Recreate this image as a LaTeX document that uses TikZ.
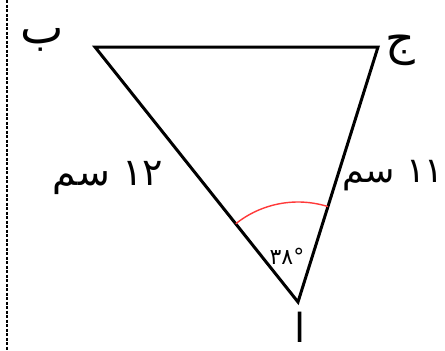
\documentclass[tikz,border=0pt]{standalone}
\usepackage{fontspec}
\newfontfamily\arabicfont[Script=Arabic]{DejaVu Sans}
\TeXXeTstate=1
\begin{document}
\begin{tikzpicture}[x=1pt,y=-1pt,
  edge/.style={line width=3pt, line join=miter},
  lbl/.style={font=\arabicfont\fontsize{38}{44}\selectfont, inner sep=0pt},
  letter/.style={font=\arabicfont\fontsize{46}{52}\selectfont, inner sep=0pt},
  small/.style={font=\arabicfont\fontsize{22}{26}\selectfont, inner sep=0pt}]
\useasboundingbox (0,0) rectangle (445,351);
\draw[line width=2.6pt, dash pattern=on 3pt off 1.5pt] (7,0) -- (7,351);
\coordinate (B) at (95,47);
\coordinate (J) at (378,47);
\coordinate (A) at (298,302);
\draw[edge] (B) -- (J) -- (A) -- cycle;
\draw[red!70!pink, line width=1.4pt] (A) ++(-72.6:100) arc[start angle=-72.6, end angle=-128.5, radius=100];
\node[letter] (lb) at (42,40) {\beginR ب\endR};
\node[letter] (lj) at (400,50) {\beginR ج\endR};
\node[letter, anchor=base, font=\arabicfont\fontsize{40}{44}\selectfont] (la) at (300,342) {\beginR ا\endR};
\node[lbl] (l12) at (108,178) {\beginR ١٢ سم\endR};
\node[lbl, anchor=east, font=\arabicfont\fontsize{35}{40}\selectfont] (l11) at (444,176) {\beginR ١١ سم\endR};
\node[small] (ang) at (287,256) {°٣٨};
\end{tikzpicture}
\end{document}
